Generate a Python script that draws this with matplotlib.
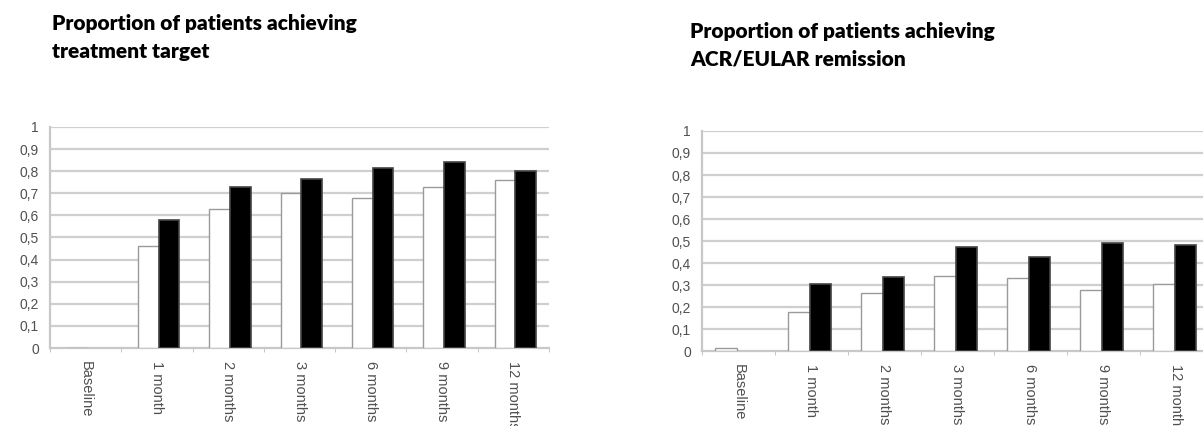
import numpy as np
import matplotlib.pyplot as plt

# Data
categories = ['Baseline', '1 month', '2 months', '3 months', '6 months', '9 months', '12 months']
target_white = [0.0, 0.46, 0.63, 0.70, 0.68, 0.73, 0.76]
target_black = [0.0, 0.58, 0.73, 0.765, 0.815, 0.84, 0.80]
remission_white = [0.015, 0.177, 0.265, 0.343, 0.333, 0.277, 0.303]
remission_black = [0.0, 0.304, 0.337, 0.475, 0.427, 0.493, 0.483]
yticks = [0, 0.1, 0.2, 0.3, 0.4, 0.5, 0.6, 0.7, 0.8, 0.9, 1]
yticklabels = ['0', '0,1', '0,2', '0,3', '0,4', '0,5', '0,6', '0,7', '0,8', '0,9', '1']


def draw_panel(ax, white, black, offset):
	x = np.arange(len(categories))
	w = 0.29
	ax.bar(x + offset, white, width=w, color='white', edgecolor='#9a9a9a', linewidth=1.0, zorder=3)
	bl = np.array(black)
	ax.bar(x + offset + w, np.where(bl > 0, bl, np.nan), width=w, color='black',
		edgecolor='#444444', linewidth=1.2, zorder=3)
	ax.set_xlim(0, len(categories))
	ax.set_ylim(0, 1)
	ax.set_yticks(yticks)
	ax.set_yticklabels(yticklabels, fontsize=10, color='#505050', family='Liberation Sans')
	for g in yticks[1:]:
		ax.axhline(g, color='#cfcfcf', lw=1.6, zorder=1)
	ax.set_xticks(x + 0.5)
	ax.set_xticklabels(categories, rotation=270, fontsize=10.5, color='#505050',
		family='Liberation Sans', va='top', ha='center')
	ax.set_xticks(np.arange(len(categories) + 1), minor=True)
	ax.tick_params(axis='x', which='major', length=0, pad=9)
	ax.tick_params(axis='x', which='minor', length=3, color='#bbbbbb')
	ax.tick_params(axis='y', length=0, pad=8)
	for s in ['top', 'right']:
		ax.spines[s].set_visible(False)
	ax.spines['left'].set_color('#c8c8c8')
	ax.spines['left'].set_linewidth(1.6)
	ax.spines['bottom'].set_color('#c8c8c8')
	ax.spines['bottom'].set_linewidth(1.6)


fig = plt.figure(figsize=(12.03, 4.26), dpi=100)

ax1 = fig.add_axes([0.0416, 0.183, 0.4148, 0.519])
draw_panel(ax1, target_white, target_black, 0.38)

ax2 = fig.add_axes([0.5835, 0.176, 0.4248, 0.5165])
draw_panel(ax2, remission_white, remission_black, 0.33)

fig.text(52 / 1203, 1 - 14 / 426, 'Proportion of patients achieving\ntreatment target',
	fontsize=15, fontweight='heavy', family='Lato', va='top', ha='left', linespacing=1.55)
fig.text(690 / 1203, 1 - 22 / 426, 'Proportion of patients achieving\nACR/EULAR remission',
	fontsize=15, fontweight='heavy', family='Lato', va='top', ha='left', linespacing=1.55)

plt.savefig('out.png', dpi=100)
